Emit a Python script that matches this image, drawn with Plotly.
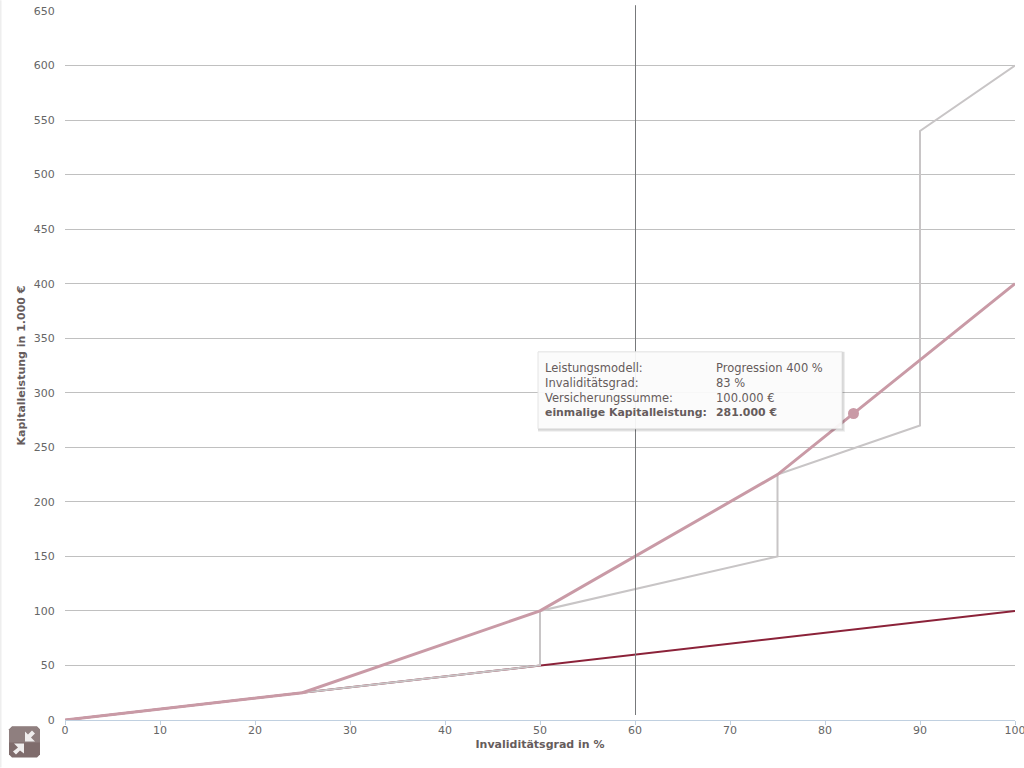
import plotly.graph_objects as go

x_grey = [0, 25, 50, 50, 75, 75, 90, 90, 100]
y_grey = [0, 25, 50, 100, 150, 225, 270, 540, 600]
x_linear = [0, 100]
y_linear = [0, 100]
x_prog = [0, 25, 50, 75, 100]
y_prog = [0, 25, 100, 225, 400]
x_point = [83]
y_point = [281]
x_ticks = list(range(0, 101, 10))
y_ticks = list(range(0, 651, 50))
tip_labels = ["Leistungsmodell:", "Invaliditätsgrad:", "Versicherungssumme:", "<b>einmalige Kapitalleistung:</b>"]
tip_values = ["Progression 400 %", "83 %", "100.000 €", "<b>281.000 €</b>"]

W, H = 1024, 768
FONT = "DejaVu Sans"
TXT = "#666666"
HEAD = "#665c5c"
L, R, T, B = 65, 1015, 10.8, 720.5


def px(x):
    return (x - L) / (R - L)


def py(y):
    return (B - y) / (B - T)


fig = go.Figure()
fig.add_trace(go.Scatter(x=x_linear, y=y_linear, mode="lines", line=dict(color="#8b2239", width=2), hoverinfo="skip"))
fig.add_trace(go.Scatter(x=x_grey, y=y_grey, mode="lines", line=dict(color="#c8c5c6", width=2), hoverinfo="skip"))
fig.add_trace(go.Scatter(x=x_prog, y=y_prog, mode="lines", line=dict(color="#c99aa6", width=3), hoverinfo="skip"))
fig.add_trace(go.Scatter(x=x_point, y=y_point, mode="markers", marker=dict(color="#c99aa6", size=11), hoverinfo="skip"))

shapes = [
    dict(type="line", xref="paper", x0=px(635.5), x1=px(635.5), yref="paper", y0=py(715.5), y1=py(5), line=dict(color="#77797b", width=1), layer="above"),
    dict(type="rect", xref="paper", yref="paper", x0=px(0), x1=px(1.5), y0=py(H), y1=py(0), fillcolor="#eeeeee", line=dict(width=0)),
]
for i in range(3, 0, -1):
    shapes.append(dict(type="rect", xref="paper", yref="paper", x0=px(538), x1=px(842 + i), y0=py(429 + i), y1=py(352),
                       fillcolor="rgba(0,0,0,0.07)", line=dict(width=0)))
shapes.append(dict(type="rect", xref="paper", yref="paper", x0=px(538), x1=px(842), y0=py(429), y1=py(352),
                   fillcolor="rgba(255,255,255,0.92)", line=dict(color="#e4e4e4", width=1)))


def path(pts):
    return "M " + " L ".join(f"{px(a):.5f},{py(b):.5f}" for a, b in pts) + " Z"


shapes.append(dict(type="path", xref="paper", yref="paper", fillcolor="#7f6c6c", line=dict(width=0),
                   path=path([(12, 727), (37, 727), (40, 730), (40, 755), (37, 758), (12, 758), (9, 755), (9, 730)])))
shapes.append(dict(type="path", xref="paper", yref="paper", fillcolor="#8f7f7f", line=dict(width=0),
                   path=path([(12, 727), (37, 727), (40, 730), (40, 743), (9, 743), (9, 730)])))
for arrow in (
    [(32, 731), (35, 734), (31, 738), (35, 742), (25, 742), (25, 732), (28, 735)],
    [(16, 755), (13, 752), (18, 748), (14, 744), (24, 744), (24, 754), (20, 751)],
):
    shapes.append(dict(type="path", xref="paper", yref="paper", fillcolor="#f0eeee", line=dict(width=0), path=path(arrow)))

annotations = []
for i, (a, b) in enumerate(zip(tip_labels, tip_values)):
    yy = 368 + i * 15
    size = 10.9 if i == 3 else 11.5
    annotations.append(dict(xref="paper", yref="paper", x=px(545), y=py(yy), text=a, showarrow=False, xanchor="left",
                            yanchor="middle", xshift=-2, font=dict(family=FONT, size=size, color=HEAD)))
    annotations.append(dict(xref="paper", yref="paper", x=px(716), y=py(yy), text=b, showarrow=False, xanchor="left",
                            yanchor="middle", xshift=-2, font=dict(family=FONT, size=size, color=HEAD)))

fig.update_layout(
    width=W, height=H,
    margin=dict(l=L, r=W - R, t=T, b=H - B, pad=0),
    paper_bgcolor="white", plot_bgcolor="white",
    showlegend=False,
    font=dict(family=FONT, size=11, color=TXT),
    shapes=shapes, annotations=annotations,
    xaxis=dict(range=[0, 100], tickmode="array", tickvals=x_ticks, ticks="outside", ticklen=4, tickcolor="#c0d0e0",
               showgrid=False, showline=True, linecolor="#c0d0e0", linewidth=1, zeroline=False,
               ticklabeloverflow="allow", automargin="bottom", tickangle=0, ticklabelstandoff=-4,
               tickfont=dict(family=FONT, size=11, color=TXT),
               title=dict(text="<b>Invaliditätsgrad in %</b>", standoff=4, font=dict(family=FONT, size=11, color=HEAD))),
    yaxis=dict(range=[0, 650], tickmode="array", tickvals=y_ticks, ticks="outside", ticklen=7, tickcolor="rgba(0,0,0,0)",
               showgrid=True, gridcolor="#c0c0c0", gridwidth=1, zeroline=False, showline=False,
               ticklabeloverflow="allow", automargin="left",
               tickfont=dict(family=FONT, size=11, color=TXT),
               title=dict(text="<b>Kapitalleistung in 1.000 €</b>", standoff=5, font=dict(family=FONT, size=11, color=HEAD))),
)
fig.write_html("out.html", config=dict(displayModeBar=False),
               post_script="document.body.style.margin='0';document.body.style.overflow='hidden';")
